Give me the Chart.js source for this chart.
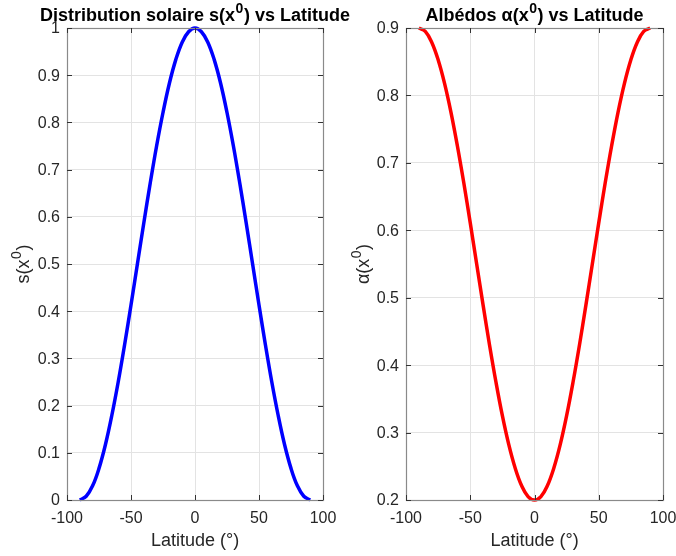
<!DOCTYPE html>
<html><head><meta charset="utf-8">
<script src="https://cdn.jsdelivr.net/npm/chart.js@4/dist/chart.umd.min.js"></script>
<style>
html,body{margin:0;padding:0;background:#fff;}
#wrap{position:relative;width:676px;height:556px;background:#fff;}
canvas{position:absolute;left:0;top:0;}
</style></head><body>
<div id="wrap"><canvas id="c1" width="676" height="556"></canvas><canvas id="c2" width="676" height="556"></canvas></div>
<script>
// ---- data ----
const latitudes   = [-90,-85,-80,-75,-70,-65,-60,-55,-50,-45,-40,-35,-30,-25,-20,-15,-10,-5,0,5,10,15,20,25,30,35,40,45,50,55,60,65,70,75,80,85,90];
const solarValues = [0.000,0.008,0.030,0.067,0.117,0.179,0.250,0.329,0.413,0.500,0.587,0.671,0.750,0.821,0.883,0.933,0.970,0.992,1.000,0.992,0.970,0.933,0.883,0.821,0.750,0.671,0.587,0.500,0.413,0.329,0.250,0.179,0.117,0.067,0.030,0.008,0.000];
const albedoValues= [0.900,0.895,0.879,0.853,0.818,0.775,0.725,0.670,0.611,0.550,0.489,0.430,0.375,0.325,0.282,0.247,0.221,0.205,0.200,0.205,0.221,0.247,0.282,0.325,0.375,0.430,0.489,0.550,0.611,0.670,0.725,0.775,0.818,0.853,0.879,0.895,0.900];
const xTicks      = [-100,-50,0,50,100];
const solarTicks  = [0,0.1,0.2,0.3,0.4,0.5,0.6,0.7,0.8,0.9,1];
const albedoTicks = [0.2,0.3,0.4,0.5,0.6,0.7,0.8,0.9];

const FONT = 'Liberation Sans, Arial, Helvetica, sans-serif';
const TXT = '#262626';

function drawRich(ctx, parts, cx, y, size, bold){
  const f = p => (bold?'bold ':'') + (p.sup? Math.round(size*0.75):size) + 'px ' + FONT;
  const w = parts.reduce((s,p)=>{ ctx.font = f(p); return s + ctx.measureText(p.t).width + (p.sup?1:0); },0);
  let x = cx - w/2;
  parts.forEach(p=>{
    ctx.font = f(p);
    ctx.fillText(p.t, x + (p.sup?0.5:0), p.sup ? y - size*0.42 : y);
    x += ctx.measureText(p.t).width + (p.sup?1:0);
  });
}

const frame = {
  id:'frame',
  afterDatasetsDraw(chart, args, opts){
    const {ctx, chartArea:a, scales} = chart;
    ctx.save();
    ctx.strokeStyle = '#8a8a8a'; ctx.lineWidth = 1.2;
    ctx.strokeRect(Math.round(a.left)+0.5, Math.round(a.top)+0.5, Math.round(a.right-a.left), Math.round(a.bottom-a.top));
    ctx.strokeStyle = '#333'; ctx.lineWidth = 1;
    ctx.beginPath();
    scales.x.ticks.forEach(t=>{
      const px = Math.round(scales.x.getPixelForValue(t.value))+0.5;
      ctx.moveTo(px,a.bottom); ctx.lineTo(px,a.bottom-5);
      ctx.moveTo(px,a.top); ctx.lineTo(px,a.top+5);
    });
    scales.y.ticks.forEach(t=>{
      const py = Math.round(scales.y.getPixelForValue(t.value))+0.5;
      ctx.moveTo(a.left,py); ctx.lineTo(a.left+5,py);
      ctx.moveTo(a.right,py); ctx.lineTo(a.right-5,py);
    });
    ctx.stroke();
    ctx.textBaseline = 'alphabetic';
    // title
    ctx.fillStyle = '#000';
    drawRich(ctx, opts.title, (a.left+a.right)/2, 21, 18, true);
    // x label
    ctx.fillStyle = TXT;
    drawRich(ctx, [{t:'Latitude (°)'}], (a.left+a.right)/2, 546, 18, false);
    // y label
    ctx.translate(opts.yLabelX, (a.top+a.bottom)/2);
    ctx.rotate(-Math.PI/2);
    drawRich(ctx, opts.ylabel, 0, 0, 18, false);
    ctx.restore();
  }
};

function makeChart(id, values, color, yMin, yMax, yTicks, padL, padR, yW, title, ylabel, yLabelX){
  return new Chart(document.getElementById(id), {
    type:'line',
    data:{datasets:[{
      data: latitudes.map((x,i)=>({x:x, y:values[i]})),
      borderColor: color, borderWidth: 3.5, pointRadius: 0,
      tension: 0.4, fill:false, clip:false
    }]},
    options:{
      responsive:false, animation:false, devicePixelRatio:1,
      layout:{padding:{left:padL, right:padR, top:28, bottom:0}},
      plugins:{legend:{display:false}, tooltip:{enabled:false}, title:{display:false},
        frame:{title:title, ylabel:ylabel, yLabelX:yLabelX}},
      scales:{
        x:{type:'linear', min:-100, max:100,
          afterBuildTicks(s){ s.ticks = xTicks.map(v=>({value:v})); },
          afterFit(s){ s.height = 56; s.paddingLeft = 0; s.paddingRight = 0; },
          grid:{color:'#e3e3e3', drawTicks:false},
          border:{display:false},
          ticks:{color:TXT, font:{family:FONT, size:16}, padding:9, maxRotation:0}
        },
        y:{type:'linear', min:yMin, max:yMax,
          afterBuildTicks(s){ s.ticks = yTicks.map(v=>({value:v})); },
          afterFit(s){ s.width = yW; s.paddingTop = 0; s.paddingBottom = 0; },
          grid:{color:'#e3e3e3', drawTicks:false},
          border:{display:false},
          ticks:{color:TXT, font:{family:FONT, size:16}, padding:7, labelOffset:1,
            callback:(v)=>String(Math.round(v*10)/10)}
        }
      }
    },
    plugins:[frame]
  });
}

makeChart('c1', solarValues, '#0000ff', 0, 1, solarTicks, 0, 353, 67,
  [{t:'Distribution solaire s(x'},{t:'0',sup:true},{t:') vs Latitude'}],
  [{t:'s(x'},{t:'0',sup:true},{t:')'}], 29);
makeChart('c2', albedoValues, '#ff0000', 0.2, 0.9, albedoTicks, 338, 13, 68,
  [{t:'Albédos α(x'},{t:'0',sup:true},{t:') vs Latitude'}],
  [{t:'α(x'},{t:'0',sup:true},{t:')'}], 369);
</script>
</body></html>
